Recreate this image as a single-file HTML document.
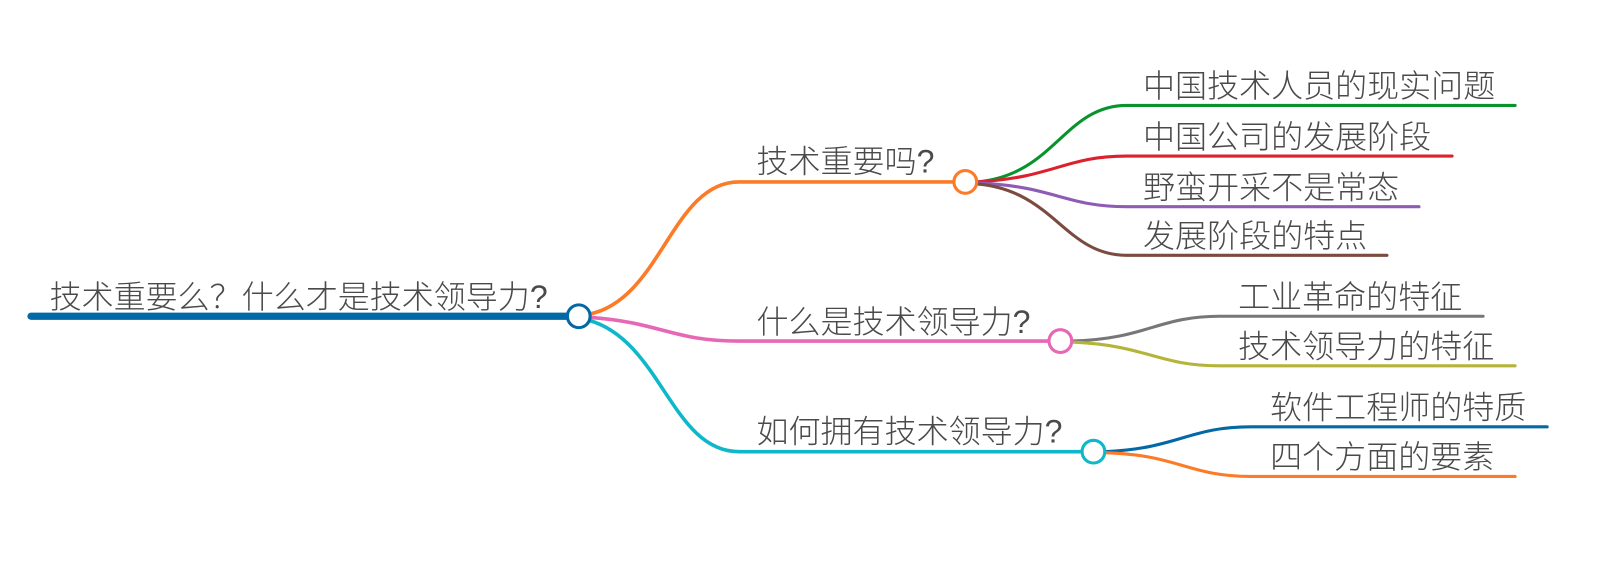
<!DOCTYPE html>
<html><head><meta charset="utf-8"><style>
html,body{margin:0;padding:0;background:#fff;width:1619px;height:577px;overflow:hidden}
text{font-family:"Liberation Sans","Noto Sans CJK SC",sans-serif;font-size:31px;fill:#4a4a4a;font-weight:300}
</style></head><body>
<svg width="1619" height="577" viewBox="0 0 1619 577" xmlns="http://www.w3.org/2000/svg">
<g transform="scale(1.0335)">
<g fill="none" stroke-linecap="round">
<path d="M30 306 H560" stroke="#0369a6" stroke-width="7"/>
<path d="M570 304 C640 290 650 176 715 176 H934" stroke="#fb7b29" stroke-width="3.5"/>
<path d="M570 307 C640 312 650 330 715 330 H1026" stroke="#e767b7" stroke-width="3.5"/>
<path d="M570 310 C640 330 650 437 715 437 H1058" stroke="#0eb7c9" stroke-width="3.5"/>
<path d="M945 176 C1020 170 1030 102 1090 102 H1466" stroke="#08932c" stroke-width="3"/>
<path d="M945 176 C1020 172 1030 151 1090 151 H1405" stroke="#dc202c" stroke-width="3"/>
<path d="M945 177 C1020 180 1030 200 1090 200 H1373" stroke="#8e5bb5" stroke-width="3"/>
<path d="M945 178 C1020 184 1030 247 1090 247 H1342" stroke="#7b4b3f" stroke-width="3"/>
<path d="M1037 330 C1110 328 1120 306 1180 306 H1435" stroke="#777" stroke-width="3"/>
<path d="M1037 331 C1110 334 1120 354 1180 354 H1466" stroke="#b5b43a" stroke-width="3"/>
<path d="M1069 437 C1140 434 1150 413 1210 413 H1497" stroke="#0369a6" stroke-width="3"/>
<path d="M1069 438 C1140 440 1150 461 1210 461 H1466" stroke="#fb7b29" stroke-width="3"/>
</g>
<circle cx="560" cy="306" r="11" fill="#fff" stroke="#0369a6" stroke-width="3"/>
<circle cx="934" cy="176" r="11" fill="#fff" stroke="#fb7b29" stroke-width="3"/>
<circle cx="1026" cy="330" r="11" fill="#fff" stroke="#e767b7" stroke-width="3"/>
<circle cx="1058" cy="437" r="11" fill="#fff" stroke="#0eb7c9" stroke-width="3"/>
<text x="48" y="298">技术重要么？什么才是技术领导力?</text>
<text x="732" y="167">技术重要吗?</text>
<text x="732" y="322">什么是技术领导力?</text>
<text x="732" y="428">如何拥有技术领导力?</text>
<text x="1106" y="94">中国技术人员的现实问题</text>
<text x="1106" y="143">中国公司的发展阶段</text>
<text x="1106" y="192">野蛮开采不是常态</text>
<text x="1106" y="239">发展阶段的特点</text>
<text x="1198" y="298">工业革命的特征</text>
<text x="1198" y="346">技术领导力的特征</text>
<text x="1229" y="405">软件工程师的特质</text>
<text x="1229" y="453">四个方面的要素</text>
</g>
</svg>
</body></html>
